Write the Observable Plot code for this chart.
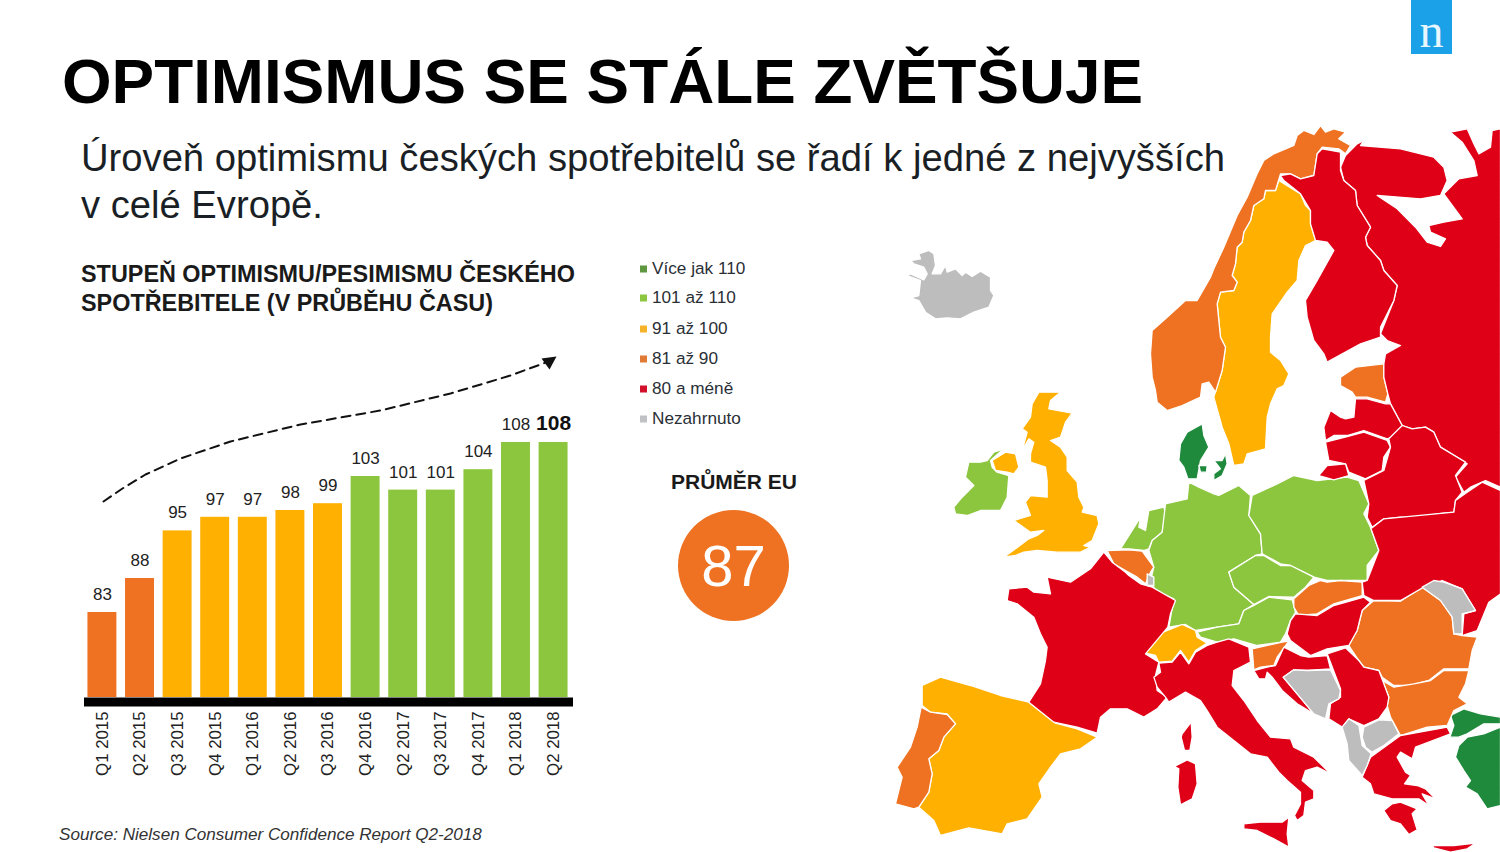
<!DOCTYPE html>
<html lang="cs"><head><meta charset="utf-8">
<script src="https://cdn.jsdelivr.net/npm/d3@7"></script>
<script src="https://cdn.jsdelivr.net/npm/@observablehq/plot@0.6"></script>
<style>
html,body{margin:0;padding:0;background:#fff}
#page{position:relative;width:1500px;height:852px;overflow:hidden;font-family:"Liberation Sans",Arial,sans-serif;color:#111}
#page>*{position:absolute}
#page svg{position:absolute;left:0;top:0;max-width:none}
#title{left:62px;top:42px;font-size:63.8px;font-weight:700;line-height:78px;white-space:nowrap;color:#000}
#sub{left:81px;top:134px;font-size:38.2px;line-height:47px;color:#1a1f26;white-space:nowrap}
#head{left:81px;top:260px;font-size:23.4px;font-weight:700;line-height:29px;white-space:nowrap;color:#1a1a1a}
#src{left:59px;top:825px;font-size:17.1px;font-style:italic;color:#333;white-space:nowrap}
#legend{left:638px;top:0;font-size:17.2px;color:#2a2f36}
.lg{position:absolute;white-space:nowrap;left:14px;transform:translateY(-50%)}
.lg i{position:absolute;left:-12px;top:50%;margin-top:-3px;width:7px;height:7px}
#avgT{left:634px;width:200px;text-align:center;top:470px;font-size:21px;font-weight:700;color:#1a1a1a}
#avg{left:678px;top:510px;width:111px;height:111px;border-radius:50%;background:#ee7222;color:#fff;font-size:58px;line-height:111px;text-align:center}
#logo{left:1411px;top:0;width:41px;height:54px;background:#1ba1e8;color:#e8f6ff;font-family:"Liberation Serif",serif;font-size:48px;line-height:62px;text-align:center}
</style></head><body>
<div id="page">
<div id="map"></div><div id="bars"></div>
<div id="title">OPTIMISMUS SE STÁLE ZVĚTŠUJE</div>
<div id="sub">Úroveň optimismu českých spotřebitelů se řadí k jedné z nejvyšších<br>v celé Evropě.</div>
<div id="head">STUPEŇ OPTIMISMU/PESIMISMU ČESKÉHO<br>SPOTŘEBITELE (V PRŮBĚHU ČASU)</div>
<div id="legend"></div>
<div id="avgT">PRŮMĚR EU</div><div id="avg">87</div>
<div id="src">Source: Nielsen Consumer Confidence Report Q2-2018</div>
<div id="logo">n</div>
</div>
<script>
// ---- chart data
const quarters = ["Q1 2015","Q2 2015","Q3 2015","Q4 2015","Q1 2016","Q2 2016","Q3 2016","Q4 2016","Q2 2017","Q3 2017","Q4 2017","Q1 2018","Q2 2018"];
const scores = [83,88,95,97,97,98,99,103,101,101,104,108,108];
const bandLabels = ["Více jak 110","101 až 110","91 až 100","81 až 90","80 a méně","Nezahrnuto"];
const bandColors = ["#1f8a3c","#8cc63f","#ffb000","#ee7222","#df0018","#bdbdbd"];
const legendColors = ["#5f9640","#8cc63f","#f5b32a","#e07a35","#d2102c","#bfc1c4"];
const legendY = [268,297,328,358,388,418];
const bandOf = v => v > 110 ? bandLabels[0] : v > 100 ? bandLabels[1] : v > 90 ? bandLabels[2] : v > 80 ? bandLabels[3] : bandLabels[4];

// ---- map outlines: [origin x, origin y, then x,y pairs at 3x]
const iceland = [890,240,[60,60],[90,55],[85,40],[115,30],[130,40],[135,75],[125,100],[150,100],[165,75],[170,95],[195,85],[215,105],[225,95],[245,108],[270,92],[300,110],[300,150],[310,165],[295,200],[250,215],[210,235],[170,232],[135,235],[105,215],[85,180],[60,172],[85,165],[90,120],[50,105],[60,100],[100,118],[110,100],[100,80],[70,70]];
const britain = [890,240,[445,455],[510,455],[480,480],[475,505],[545,518],[525,545],[510,590],[480,600],[510,620],[530,650],[530,690],[560,725],[565,770],[580,800],[575,815],[620,825],[625,850],[605,900],[580,915],[600,920],[570,935],[500,935],[440,930],[400,935],[375,945],[340,950],[375,925],[415,895],[440,885],[460,870],[420,875],[370,840],[420,825],[405,785],[420,765],[470,770],[470,720],[465,680],[420,665],[420,640],[430,605],[415,595],[395,630],[410,575],[395,565],[420,530],[425,490]];
const nIreland = [890,240,[305,660],[345,635],[375,640],[385,680],[370,700],[350,695],[315,690]];
const ireland = [890,240,[290,660],[310,635],[340,625],[300,660],[305,680],[320,695],[355,705],[350,770],[330,810],[270,810],[230,825],[195,820],[190,800],[215,770],[250,735],[225,710],[235,665],[270,665]];
const norway = [1100,110,[610,60],[640,72],[660,45],[675,65],[700,55],[735,65],[715,85],[750,105],[735,130],[715,115],[665,110],[650,130],[640,195],[600,205],[570,190],[540,190],[525,240],[495,240],[490,265],[460,285],[450,330],[430,365],[425,395],[410,410],[405,460],[395,495],[410,515],[400,540],[360,545],[350,580],[360,680],[375,710],[365,780],[345,845],[325,815],[305,820],[300,860],[245,885],[200,900],[170,875],[165,840],[155,800],[150,730],[155,660],[195,625],[255,570],[290,570],[330,500],[340,475],[370,410],[410,315],[440,260],[470,190],[490,150],[520,130],[580,105],[590,75]];
const sweden = [1100,110,[535,210],[600,250],[615,285],[630,300],[630,340],[645,390],[615,405],[595,450],[590,510],[560,545],[515,610],[510,680],[510,725],[540,750],[565,790],[550,825],[530,835],[510,880],[500,920],[495,1015],[440,1030],[430,1060],[400,1065],[385,1000],[365,950],[340,860],[365,780],[375,710],[360,680],[350,580],[360,545],[400,540],[410,515],[395,495],[405,460],[410,410],[425,395],[430,365],[450,330],[460,285],[490,265],[495,240],[525,240]];
const finland = [1100,110,[540,195],[570,190],[600,205],[640,195],[650,130],[665,115],[695,120],[720,125],[720,180],[730,210],[765,240],[770,285],[810,350],[795,380],[800,405],[840,450],[850,480],[890,525],[880,570],[840,650],[840,680],[780,700],[680,755],[670,730],[640,690],[620,620],[615,570],[650,510],[700,420],[680,395],[645,390],[630,340],[630,300],[600,250],[550,210]];
const russia = [1100,110,[770,100],[790,90],[780,105],[900,115],[1000,140],[1030,170],[1040,210],[1020,255],[960,265],[830,255],[890,295],[945,350],[980,395],[1020,408],[1035,385],[990,365],[985,345],[1030,335],[1085,325],[1030,250],[1075,205],[1130,195],[1120,150],[1085,95],[1050,65],[1100,55],[1120,100],[1135,130],[1170,110],[1175,60],[1200,55],[1200,1130],[1155,1110],[1110,1130],[1090,1145],[1065,1100],[1100,1060],[1020,1010],[1000,965],[975,950],[935,955],[905,945],[870,880],[862,850],[850,800],[850,760],[855,730],[900,705],[860,690],[840,670],[880,570],[890,525],[850,480],[840,450],[800,405],[795,380],[810,350],[770,285],[765,240],[730,210],[720,170],[735,135]];
const estonia = [1100,110,[720,800],[765,770],[850,760],[850,800],[862,850],[855,875],[800,860],[765,860],[755,845],[720,825]];
const latvia = [1100,110,[675,990],[670,950],[690,900],[720,920],[735,925],[760,920],[765,865],[800,865],[855,880],[870,880],[905,945],[890,975],[860,985],[790,960],[740,975],[700,975]];
const lithuania = [1100,110,[675,995],[740,978],[790,965],[860,990],[870,1010],[850,1040],[845,1080],[795,1105],[745,1085],[735,1060],[685,1050]];
const kaliningrad = [1100,110,[655,1095],[680,1065],[735,1060],[745,1095],[700,1108]];
const belarus = [1100,110,[790,1110],[850,1080],[870,1010],[865,985],[905,945],[935,955],[975,950],[1000,965],[1020,1010],[1095,1055],[1065,1095],[1085,1145],[1065,1170],[1060,1205],[1010,1210],[960,1220],[900,1220],[850,1225],[815,1250],[800,1220],[805,1180]];
const denmark = [1100,110,[305,940],[310,975],[325,1010],[300,1050],[290,1105],[262,1105],[250,1070],[235,1050],[240,1000],[260,965]];
const funen = [1100,110,[295,1065],[320,1065],[318,1085],[300,1085]];
const zealand = [1100,110,[340,1050],[365,1050],[375,1030],[380,1060],[365,1095],[340,1110],[340,1090],[360,1075]];
const poland = [1100,470,[455,75],[530,40],[580,15],[650,30],[740,20],[775,30],[805,100],[790,130],[810,170],[835,240],[800,285],[800,330],[720,330],[680,330],[640,320],[570,285],[540,280],[485,250],[480,190],[445,135]];
const ukraine = [1100,470,[815,172],[850,145],[1060,125],[1065,90],[1100,65],[1145,35],[1200,60],[1200,370],[1165,395],[1130,480],[1085,495],[1090,430],[1125,420],[1085,355],[1025,330],[970,350],[900,390],[820,390],[790,375],[785,335],[800,330],[835,240],[810,170]];
const moldova = [1100,470,[965,350],[1000,330],[1030,335],[1085,355],[1125,420],[1085,430],[1085,490],[1060,490],[1055,440],[1020,390]];
const romania = [1100,470,[745,525],[770,480],[785,420],[820,390],[900,392],[965,350],[1020,390],[1055,440],[1060,490],[1085,495],[1130,500],[1115,540],[1105,595],[1030,595],[985,630],[930,645],[880,645],[845,620],[835,600],[790,590],[775,570]];
const bulgaria = [1100,470,[845,630],[880,650],[940,640],[990,630],[1030,600],[1105,600],[1095,640],[1075,680],[1100,700],[1060,720],[1040,765],[980,770],[900,795],[870,740],[860,705],[865,680],[850,640]];
const hungary = [1100,470,[570,450],[585,430],[650,435],[700,405],[790,380],[810,395],[785,420],[770,480],[745,525],[680,535],[630,555],[570,510],[560,490]];
const slovakia = [1100,470,[580,385],[625,345],[660,330],[680,335],[720,330],[785,335],[785,375],[700,400],[650,430],[595,435],[580,410]];
const czechia = [1100,470,[385,305],[465,255],[490,255],[540,285],[570,285],[640,320],[615,350],[580,380],[505,378],[460,402],[400,350]];
const austria = [1100,470,[290,485],[350,470],[415,460],[430,420],[460,405],[505,380],[575,388],[585,425],[570,450],[555,490],[540,515],[470,525],[400,505],[350,515],[300,500]];
const germany = [1100,470,[265,35],[295,50],[340,70],[355,75],[415,45],[450,75],[445,135],[480,190],[485,250],[465,255],[385,305],[400,350],[460,402],[430,420],[415,460],[350,470],[285,480],[255,462],[205,470],[220,385],[165,360],[150,330],[160,290],[145,240],[155,210],[185,185],[195,100],[260,85]];
const netherlands = [1100,470,[60,235],[120,140],[115,170],[135,180],[145,120],[190,110],[195,130],[185,185],[155,210],[145,235],[130,240],[85,235]];
const belgium = [1100,470,[20,240],[85,238],[125,242],[160,290],[150,305],[135,340],[110,320],[75,300],[40,280]];
const luxembourg = [1100,470,[140,310],[160,320],[160,345],[140,345]];
const switzerland = [1100,470,[135,548],[175,490],[245,462],[285,480],[290,500],[320,518],[285,540],[265,575],[240,540],[215,572],[175,575],[165,555]];
const slovenia = [1100,470,[455,535],[545,515],[565,512],[530,560],[520,585],[480,590],[460,598]];
const croatia = [1100,470,[460,600],[500,590],[525,585],[550,530],[600,555],[625,560],[680,555],[690,595],[620,600],[580,598],[548,620],[590,670],[640,730],[590,700],[545,660],[515,620],[500,605],[495,625],[475,625]];
const bosnia = [1100,470,[548,620],[580,598],[620,600],[690,598],[720,660],[715,685],[685,700],[675,745],[640,730],[590,670]];
const serbia = [1100,470,[680,550],[735,532],[775,570],[790,590],[835,600],[850,640],[865,680],[860,710],[835,745],[790,765],[745,745],[725,770],[685,745],[690,700],[720,680],[720,655]];
const albania = [1100,470,[725,770],[745,745],[775,765],[785,825],[812,850],[800,885],[785,915],[745,870],[740,820]];
const macedonia = [1100,470,[790,770],[835,748],[875,750],[895,790],[850,825],[815,845],[795,830],[785,800]];
const greece = [1100,470,[785,920],[810,860],[900,795],[1040,770],[1050,790],[945,830],[935,865],[900,845],[890,860],[915,905],[930,915],[912,940],[950,945],[975,955],[1005,985],[965,970],[985,1005],[955,985],[875,985],[820,970],[810,940]];
const peloponnese = [1100,470,[850,1020],[875,1000],[900,995],[950,1015],[935,1030],[950,1078],[925,1092],[900,1060],[870,1050]];
const crete = [1100,470,[995,1125],[1060,1125],[1125,1118],[1100,1135],[1050,1145],[1000,1132]];
const thrace = [1100,470,[1050,735],[1090,715],[1140,730],[1200,740],[1200,760],[1150,760],[1100,790],[1075,800],[1048,800],[1060,765]];
const anatolia = [1100,470,[1075,825],[1100,800],[1150,790],[1200,770],[1200,1005],[1160,1015],[1130,970],[1095,950],[1110,930],[1090,900],[1065,860]];
const italy = [1100,470,[175,578],[215,575],[240,545],[265,580],[285,545],[320,525],[350,515],[385,505],[445,530],[450,575],[400,600],[395,645],[430,690],[470,750],[510,800],[570,805],[580,830],[640,860],[690,910],[650,890],[615,900],[605,930],[640,960],[640,985],[615,995],[610,1035],[590,1050],[582,1035],[600,1000],[600,965],[560,930],[535,905],[500,860],[450,850],[400,810],[350,770],[320,720],[300,690],[255,665],[205,695],[195,680],[170,650],[160,620],[180,605]];
const sicily = [1100,470,[430,1060],[480,1055],[545,1055],[565,1040],[560,1090],[565,1130],[520,1105],[470,1080],[430,1075]];
const corsica = [1100,470,[245,790],[272,755],[275,800],[268,840],[252,840],[242,800]];
const sardinia = [1100,470,[222,888],[260,868],[285,880],[290,940],[275,985],[240,1003],[232,950],[235,895]];
const france = [880,540,[670,35],[695,65],[735,95],[745,105],[780,130],[815,140],[885,180],[870,220],[862,260],[795,340],[835,365],[825,405],[830,450],[860,470],[830,505],[790,530],[740,505],[690,505],[660,530],[650,578],[590,560],[520,545],[445,485],[480,430],[495,360],[500,320],[480,280],[460,230],[410,190],[380,180],[385,145],[440,140],[460,155],[510,160],[500,110],[570,125],[630,85]];
const spain = [880,540,[125,435],[180,410],[270,435],[360,465],[445,485],[525,548],[590,565],[650,590],[600,625],[540,640],[510,680],[475,730],[485,770],[440,835],[380,850],[365,880],[265,862],[180,885],[160,840],[115,800],[145,755],[155,700],[145,655],[175,630],[190,590],[225,550],[200,520],[150,515],[125,495]];
const portugal = [880,540,[122,500],[150,515],[200,522],[225,550],[190,590],[175,630],[145,655],[155,700],[145,755],[115,800],[100,805],[45,790],[65,710],[50,680],[90,620],[110,560]];

const regionsByBand = [
  [denmark,funen,zealand,thrace,anatolia],
  [ireland,netherlands,germany,poland,czechia,austria],
  [britain,nIreland,sweden,spain,switzerland],
  [norway,estonia,belgium,portugal,slovakia,slovenia,romania,bulgaria],
  [russia,finland,latvia,lithuania,kaliningrad,belarus,ukraine,france,italy,sicily,corsica,sardinia,hungary,croatia,serbia,greece,peloponnese,crete],
  [iceland,moldova,luxembourg,bosnia,albania,macedonia]
];
const trendLine = [[103,501],[122,488],[145,474],[180,458],[230,441],[300,424],[380,410],[450,393],[510,375],[548,361]];
const trendHead = [[541,358],[556,356],[549,369]];

// ---- geometry helpers
const ring = ([ox,oy,...pts]) => { const r = pts.map(([x,y]) => [ox+x/3, oy+y/3]); r.push(r[0]); return r; };
const features = regionsByBand.flatMap((list,i) => list.map(reg => ({
  type:"Feature", properties:{band:bandLabels[i]}, geometry:{type:"Polygon",coordinates:[ring(reg)]}
})));

document.getElementById("map").append(Plot.plot({
  width:1500,height:852,margin:0,projection:"identity",
  style:{background:"transparent"},
  color:{type:"ordinal",domain:bandLabels,range:bandColors},
  marks:[
    Plot.geo(features,{fill:d=>d.properties.band,stroke:"#fff",strokeWidth:1.3,strokeLinejoin:"round"}),
    Plot.geo({type:"LineString",coordinates:trendLine},{stroke:"#111",strokeWidth:2,strokeDasharray:"9,6",fill:"none"}),
    Plot.geo({type:"Polygon",coordinates:[[...trendHead,trendHead[0]]]},{fill:"#111"})
  ]
}));

const barRows = quarters.map((q,i)=>({q,v:scores[i]}));
document.getElementById("bars").append(Plot.plot({
  width:620,height:852,marginLeft:84,marginRight:47,marginTop:442,marginBottom:155,
  style:{background:"transparent",fontFamily:"'Liberation Sans',Arial,sans-serif"},
  x:{domain:quarters,paddingInner:0.23,paddingOuter:0.118,round:false,label:null,range:[83,572]},
  y:{domain:[70.5,108],axis:null},
  color:{type:"ordinal",domain:bandLabels,range:bandColors},
  marks:[
    Plot.barY(barRows,{x:"q",y1:70.5,y2:"v",fill:d=>bandOf(d.v)}),
    Plot.ruleY([70.5],{stroke:"#000",strokeWidth:9,dy:4.5}),
    Plot.text(barRows.slice(0,-1),{x:"q",y:"v",text:d=>String(d.v),dy:-18,fontSize:17,fill:"#222"}),
    Plot.text(barRows.slice(-1),{x:"q",y:"v",text:d=>String(d.v),dy:-19,fontSize:21,fontWeight:700,fill:"#111"}),
    Plot.axisX({tickRotate:-90,tickSize:0,tickPadding:14,fontSize:16.8,label:null,color:"#222"})
  ]
}));

const legend = document.getElementById("legend");
bandLabels.forEach((t,i)=>{
  const d = document.createElement("div"); d.className="lg"; d.style.top=legendY[i]+"px";
  const s = document.createElement("i"); s.style.background=legendColors[i];
  d.append(s,t); legend.append(d);
});
</script>
</body></html>
